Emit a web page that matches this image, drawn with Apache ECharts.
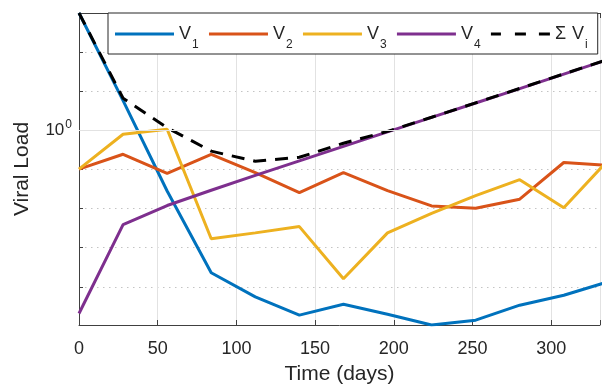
<!DOCTYPE html>
<html>
<head>
<meta charset="utf-8">
<script src="https://cdn.jsdelivr.net/npm/echarts@6/dist/echarts.min.js"></script>
<style>
  html, body { margin: 0; padding: 0; background: #fff; }
  #chart { width: 603px; height: 390px; }
</style>
</head>
<body>
<div id="chart"></div>
<script>
// sampling days (every 4 weeks)
const days = [0, 28, 56, 84, 112, 140, 168, 196, 224, 252, 280, 308, 336]

// viral load per strain
const v1 = [1000, 5.75, 0.0282, 2.29e-4, 5.57e-5, 1.9e-5, 3.6e-5, 2.0e-5, 1.06e-5, 1.41e-5, 3.4e-5, 6.1e-5, 1.35e-4]
const v2 = [0.102, 0.245, 0.0794, 0.245, 0.0832, 0.0257, 0.0832, 0.0288, 0.0117, 0.0102, 0.0174, 0.151, 0.128]
const v3 = [0.102, 0.794, 1.07, 0.0017, 0.0024, 0.00347, 0.000162, 0.0024, 0.0076, 0.0214, 0.055, 0.0105, 0.17]
const v4 = [2.09e-5, 0.00389, 0.012, 0.0295, 0.0708, 0.166, 0.389, 0.912, 2.14, 5.01, 11.7, 27.5, 64.6]
const vSum = [1000, 6.6, 1.17, 0.295, 0.162, 0.205, 0.47, 0.94, 2.16, 5.04, 11.8, 27.7, 64.7]

const seriesNames = ['V1', 'V2', 'V3', 'V4', 'Sum']
const legendLabels = {
  V1: '{v|V}{s|1}',
  V2: '{v|V}{s|2}',
  V3: '{v|V}{s|3}',
  V4: '{v|V}{s|4}',
  Sum: '{v|Σ}{w|V}{s|i}'
}

const FONT = "'Liberation Sans', Arial, sans-serif"
const INK = '#262626'

const solidIcon = 'path://M0,0H59V3H0Z'
const dashIcon = 'path://M0,0H10V3H0Z M24,0H35V3H24Z M48,0H59V3H48Z'

const pair = (ys) => days.map((d, i) => [d, ys[i]])

function lineSeries(name, ys, color, dashed) {
  return {
    name,
    type: 'line',
    data: pair(ys),
    symbol: 'none',
    clip: true,
    z: 3,
    lineStyle: { color, width: 3, type: dashed ? [13, 9] : 'solid' },
    itemStyle: { color }
  }
}

const chart = echarts.init(document.getElementById('chart'), null, { renderer: 'canvas' })

chart.setOption({
  animation: false,
  textStyle: { fontFamily: FONT },
  grid: { left: 79, top: 13, right: 0, bottom: 63 },
  legend: {
    data: seriesNames.map((n) => ({ name: n, icon: n === 'Sum' ? dashIcon : solidIcon })),
    left: 108,
    top: 13,
    padding: [12, 10, 3, 7],
    itemWidth: 59,
    itemHeight: 3,
    itemGap: 10.3,
    backgroundColor: '#fff',
    borderColor: INK,
    borderWidth: 1,
    borderRadius: 0,
    itemStyle: { borderWidth: 0 },
    formatter: (n) => legendLabels[n],
    textStyle: {
      color: INK,
      rich: {
        v: { fontSize: 18, fontFamily: FONT, color: INK },
        w: { fontSize: 18, fontFamily: FONT, color: INK, padding: [0, 0, 0, 6] },
        s: { fontSize: 12, fontFamily: FONT, color: INK, padding: [22, 0, 0, 1] }
      }
    }
  },
  xAxis: [{
    type: 'value',
    min: 0,
    max: 331,
    interval: 50,
    name: 'Time (days)',
    nameLocation: 'middle',
    nameGap: 39,
    nameTextStyle: { fontSize: 21, color: INK, fontFamily: FONT },
    axisLine: { lineStyle: { color: '#404040', width: 1 } },
    axisTick: { inside: true, length: 5, lineStyle: { color: '#404040' } },
    axisLabel: {
      fontSize: 18, color: INK, margin: 15,
      formatter: (v) => (v % 50 === 0 ? String(v) : '')
    },
    splitLine: { show: true, lineStyle: { color: '#e2e2e2', width: 1 } }
  }, {
    type: 'value',
    position: 'top',
    min: 0,
    max: 331,
    interval: 50,
    axisLine: { show: true, onZero: false, lineStyle: { color: '#404040', width: 1 } },
    axisTick: { inside: true, length: 5, lineStyle: { color: '#404040' } },
    axisLabel: { show: false },
    splitLine: { show: false }
  }],
  yAxis: {
    type: 'log',
    logBase: 10,
    min: 1.06e-5,
    max: 1000,
    name: 'Viral Load',
    nameLocation: 'middle',
    nameGap: 46,
    nameTextStyle: { fontSize: 21, color: INK, fontFamily: FONT },
    axisLine: { show: true, lineStyle: { color: '#404040', width: 1 } },
    axisTick: { inside: true, length: 4, lineStyle: { color: '#404040' } },
    axisLabel: {
      margin: 7,
      color: INK,
      formatter: (v) => (Math.abs(Math.log10(v)) < 1e-6 ? '{b|10}{p|0}' : ''),
      rich: {
        b: { fontSize: 17, fontFamily: FONT, color: INK },
        p: { fontSize: 12, fontFamily: FONT, color: INK, padding: [0, 0, 12, 1] }
      }
    },
    splitLine: { show: true, lineStyle: { color: '#c4c4c4', width: 1, type: [1.5, 4.5] } }
  },
  series: [
    // solid major grid line at 10^0, kept under the data
    {
      name: 'grid',
      type: 'line',
      data: [],
      z: 1,
      silent: true,
      markLine: {
        silent: true,
        symbol: 'none',
        label: { show: false },
        lineStyle: { color: '#e2e2e2', width: 1, type: 'solid' },
        data: [{ yAxis: 1 }]
      }
    },
    lineSeries('V1', v1, '#0072BD'),
    lineSeries('V2', v2, '#D95319'),
    lineSeries('V3', v3, '#EDB120'),
    lineSeries('V4', v4, '#7E2F8E'),
    lineSeries('Sum', vSum, '#000000', true)
  ]
})
</script>
</body>
</html>
